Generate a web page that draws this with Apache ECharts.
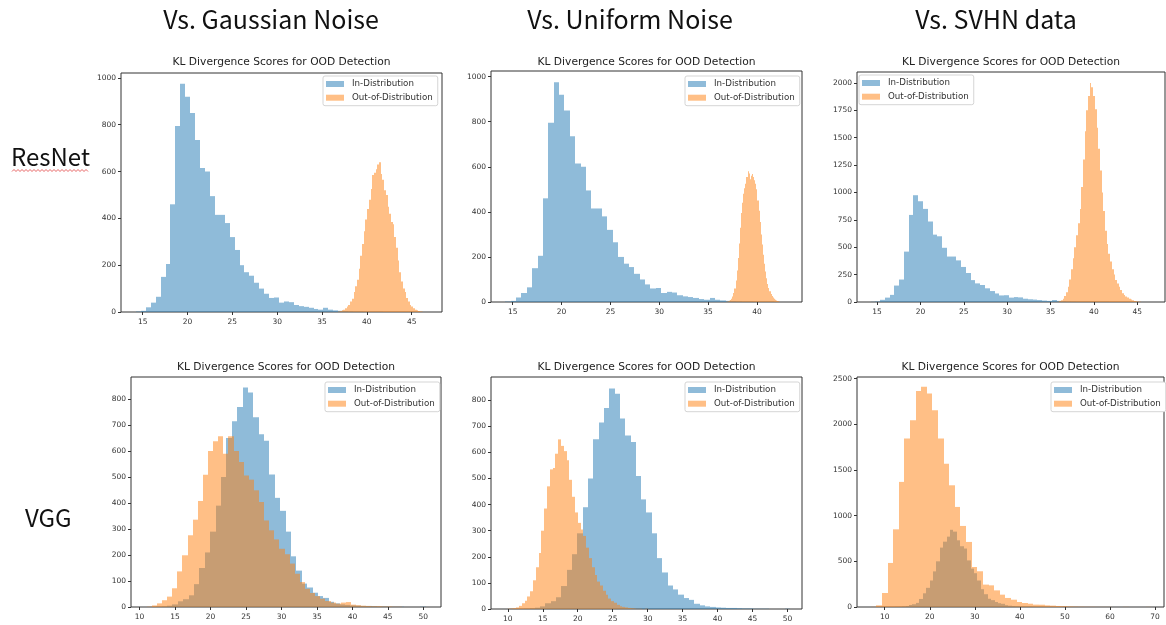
<!DOCTYPE html>
<html><head><meta charset="utf-8">
<script src="https://cdn.jsdelivr.net/npm/echarts@6/dist/echarts.min.js"></script>
<style>html,body{margin:0;padding:0;background:#fff}#chart{width:1166px;height:625px}</style>
</head><body><div id="chart"></div>
<script>
// ---------- text ----------
const columnTitles = ['Vs. Gaussian Noise', 'Vs. Uniform Noise', 'Vs. SVHN data'];
const rowLabels = ['ResNet', 'VGG'];
const panelTitle = 'KL Divergence Scores for OOD Detection';
const seriesNames = ['In-Distribution', 'Out-of-Distribution'];

// ---------- histogram data (bin start, bin width, counts) ----------
const resnetInStart = 14.25, resnetInWidth = 0.55;
const resnetInCounts = [2,5,20,40,65,150,205,460,795,975, 920,850,735,615,600,495,415,415,380,320,
  265,200,170,155,125,100,78,60,62,40, 45,42,30,25,22,18,13,10,18,10, 7,5,4,3,2,2,1,1,1,1];

const resnetGaussStart = 36.8, resnetGaussWidth = 0.19;
const resnetGaussCounts = [2,4,7,10,16,24,30,45,57,85, 110,138,185,240,290,345,395,440,480,525,
  585,595,610,630,640,590,565,520,500,450, 420,385,375,320,275,220,170,130,100,85, 60,45,30,24,16,10,7,4,2,1];

const resnetUnifStart = 36.8, resnetUnifWidth = 0.112;
const resnetUnifCounts = [1,2,3,5,9,14,24,40,60,95, 140,195,260,330,395,440,480,505,525,555,
  580,570,545,560,568,555,540,525,500,450, 405,355,300,255,210,170,135,105,80,62, 48,36,27,20,14,10,7,4,3,1];

const resnetSvhnStart = 35.8, resnetSvhnWidth = 0.196;
const resnetSvhnCounts = [3,8,16,30,55,90,140,205,300,400, 500,610,720,850,1050,1300,1560,1750,1880,2000,
  1960,1880,1760,1590,1400,1200,1000,830,650,530, 440,370,300,250,200,170,140,110,80,65, 50,40,30,22,15,10,7,4,2,1];

const vggInStart = 12.35, vggInWidth = 0.76;
const vggInCounts = [1,2,5,10,22,30,45,88,150,210, 290,390,500,650,715,770,845,825,730,665,
  640,510,420,370,290,195,140,90,75,55, 42,35,20,14,10,8,6,5,4,4, 3,2,2,1,1,1,0,0,0,1];

const vggGaussStart = 11.0, vggGaussWidth = 0.72;
const vggGaussCounts = [1,6,14,26,40,72,137,199,276,336, 408,509,600,638,657,590,657,600,558,506,
  490,449,404,333,295,260,224,203,167,128, 96,70,54,42,32,23,17,13,17,19, 9,7,5,4,3,3,2,2,1,1];

const vggUnifStart = 10.0, vggUnifWidth = 0.4;
const vggUnifCounts = [1,2,3,6,12,22,32,48,68,110, 160,215,300,385,470,535,540,595,650,625,
  605,570,495,430,370,330,305,280,235,195, 160,130,105,90,70,55,40,30,24,16, 11,8,6,4,3,2,1,1,0,1];

const vggSvhnStart = 6.9, vggSvhnWidth = 1.245;
const vggSvhnCounts = [2,18,153,482,850,1369,1843,2044,2365,2409, 2336,2153,1843,1569,1332,1095,887,712,438,391,
  245,237,182,135,99,80,55,44,36,26, 25,18,15,11,9,6,4,3,2,2, 1,1,1,0,0,1,0,0,0,1];

// ---------- axis ticks / ranges ----------
const xTicks15to45 = [15,20,25,30,35,40,45];
const xTicks15to40 = [15,20,25,30,35,40];
const xTicks10to50 = [10,15,20,25,30,35,40,45,50];
const xTicks10to70 = [10,20,30,40,50,60,70];
const yTicks1000 = [0,200,400,600,800,1000];
const yTicks2000 = [0,250,500,750,1000,1250,1500,1750,2000];
const yTicks800 = [0,100,200,300,400,500,600,700,800];
const yTicks2500 = [0,500,1000,1500,2000,2500];

const panels = [
  {inS: resnetInStart, inW: resnetInWidth, inC: resnetInCounts, outS: resnetGaussStart, outW: resnetGaussWidth, outC: resnetGaussCounts,
   xMin: 12.58, xMax: 48.38, yMax: 1021, xT: xTicks15to45, yT: yTicks1000},
  {inS: resnetInStart, inW: resnetInWidth, inC: resnetInCounts, outS: resnetUnifStart, outW: resnetUnifWidth, outC: resnetUnifCounts,
   xMin: 12.78, xMax: 44.61, yMax: 1025, xT: xTicks15to40, yT: yTicks1000},
  {inS: resnetInStart, inW: resnetInWidth, inC: resnetInCounts, outS: resnetSvhnStart, outW: resnetSvhnWidth, outC: resnetSvhnCounts,
   xMin: 12.69, xMax: 48.2, yMax: 2100, xT: xTicks15to45, yT: yTicks2000},
  {inS: vggInStart, inW: vggInWidth, inC: vggInCounts, outS: vggGaussStart, outW: vggGaussWidth, outC: vggGaussCounts,
   xMin: 8.79, xMax: 52.49, yMax: 885, xT: xTicks10to50, yT: yTicks800},
  {inS: vggInStart, inW: vggInWidth, inC: vggInCounts, outS: vggUnifStart, outW: vggUnifWidth, outC: vggUnifCounts,
   xMin: 7.6, xMax: 52.07, yMax: 889, xT: xTicks10to50, yT: yTicks800},
  {inS: vggInStart, inW: vggInWidth, inC: vggInCounts, outS: vggSvhnStart, outW: vggSvhnWidth, outC: vggSvhnCounts,
   xMin: 3.85, xMax: 72.0, yMax: 2517, xT: xTicks10to70, yT: yTicks2500}
];

// ---------- layout (pixels) ----------
const layout = [
  {left: 121, top: 73, width: 321, height: 239, legendLeft: 323, legendTop: 76, titleY: 62},
  {left: 491, top: 71, width: 311, height: 231, legendLeft: 685, legendTop: 76, titleY: 62},
  {left: 857, top: 72, width: 308, height: 230, legendLeft: 859, legendTop: 75, titleY: 62},
  {left: 131, top: 377, width: 310, height: 230, legendLeft: 325, legendTop: 382, titleY: 367},
  {left: 491, top: 377, width: 311, height: 232, legendLeft: 685, legendTop: 382, titleY: 367},
  {left: 857, top: 377, width: 307, height: 230, legendLeft: 1051, legendTop: 382, titleY: 367}
];

const blue = 'rgba(31,119,180,0.5)';
const orange = 'rgba(255,127,14,0.5)';
const tickFont = 'DejaVu Sans';

function toBins(start, width, counts) {
  return counts.map((c, i) => [start + i * width, start + (i + 1) * width, c]);
}
function renderBin(params, api) {
  const a = api.coord([api.value(0), api.value(2)]);
  const b = api.coord([api.value(1), 0]);
  const x0 = Math.round(a[0]), x1 = Math.round(b[0]);
  return {type: 'rect', shape: {x: x0, y: a[1], width: x1 - x0, height: b[1] - a[1]}, style: api.style()};
}
const plain = v => String(v);

const grid = [], xAxis = [], yAxis = [], series = [], legend = [], graphic = [];
panels.forEach((p, i) => {
  const L = layout[i];
  grid.push({left: L.left, top: L.top, width: L.width, height: L.height, show: true,
    borderColor: '#333', borderWidth: 1, backgroundColor: 'transparent', containLabel: false});
  xAxis.push({type: 'value', gridIndex: i, min: p.xMin, max: p.xMax,
    axisLine: {show: false}, splitLine: {show: false},
    axisTick: {show: true, length: 3, customValues: p.xT, lineStyle: {color: '#333', width: 1}},
    axisLabel: {customValues: p.xT, formatter: plain, fontSize: 7.5, fontFamily: tickFont, color: '#333', margin: 6}});
  yAxis.push({type: 'value', gridIndex: i, min: 0, max: p.yMax,
    axisLine: {show: false}, splitLine: {show: false},
    axisTick: {show: true, length: 3, customValues: p.yT, lineStyle: {color: '#333', width: 1}},
    axisLabel: {customValues: p.yT, formatter: plain, fontSize: 7.5, fontFamily: tickFont, color: '#333', margin: 5}});
  series.push({type: 'custom', name: seriesNames[0], xAxisIndex: i, yAxisIndex: i, renderItem: renderBin,
    data: toBins(p.inS, p.inW, p.inC), encode: {x: [0, 1], y: 2}, itemStyle: {color: blue}, silent: true, clip: true});
  series.push({type: 'custom', name: seriesNames[1], xAxisIndex: i, yAxisIndex: i, renderItem: renderBin,
    data: toBins(p.outS, p.outW, p.outC), encode: {x: [0, 1], y: 2}, itemStyle: {color: orange}, silent: true, clip: true});
  legend.push({left: L.legendLeft, top: L.legendTop, orient: 'vertical', data: seriesNames, icon: 'rect',
    itemWidth: 18, itemHeight: 6, itemGap: 3.7, padding: [3, 5, 3, 3], backgroundColor: '#fff',
    borderColor: '#d5d5d5', borderWidth: 1, borderRadius: 2, selectedMode: false,
    textStyle: {fontSize: 8.7, fontFamily: 'DejaVu Sans', color: '#333', padding: [0, 0, 0, 3], lineHeight: 10}});
  graphic.push({type: 'text', x: L.left + L.width / 2, y: L.titleY,
    style: {text: panelTitle, fontSize: 10.7, fontFamily: 'DejaVu Sans', fill: '#222',
      align: 'center', verticalAlign: 'middle', textAlign: 'center', textVerticalAlign: 'middle'}});
});

const colCenters = [271, 630, 996];
columnTitles.forEach((t, i) => {
  graphic.push({type: 'text', x: colCenters[i], y: 19,
    style: {text: t, fontSize: 25, fontFamily: '"Noto Sans CJK KR", "Noto Sans", sans-serif', fill: '#111',
      align: 'center', verticalAlign: 'middle', textAlign: 'center', textVerticalAlign: 'middle'}});
});
const rowPos = [[11, 157], [25, 518]];
rowLabels.forEach((t, i) => {
  graphic.push({type: 'text', x: rowPos[i][0], y: rowPos[i][1],
    style: {text: t, fontSize: 24, fontFamily: '"Noto Sans CJK KR", "Noto Sans", sans-serif', fill: '#111',
      align: 'left', verticalAlign: 'middle', textAlign: 'left', textVerticalAlign: 'middle'}});
});
// spell-check squiggle under "ResNet"
const squiggle = [];
for (let k = 0; k <= 38; k++) squiggle.push([12 + k * 2, k % 2 ? 169.5 : 171.5]);
graphic.push({type: 'polyline', shape: {points: squiggle}, style: {stroke: '#e03c3c', lineWidth: 0.8, fill: null}});

const chart = echarts.init(document.getElementById('chart'), null, {renderer: 'canvas'});
chart.setOption({animation: false, backgroundColor: '#fff', grid, xAxis, yAxis, series, legend, graphic});
</script></body></html>
